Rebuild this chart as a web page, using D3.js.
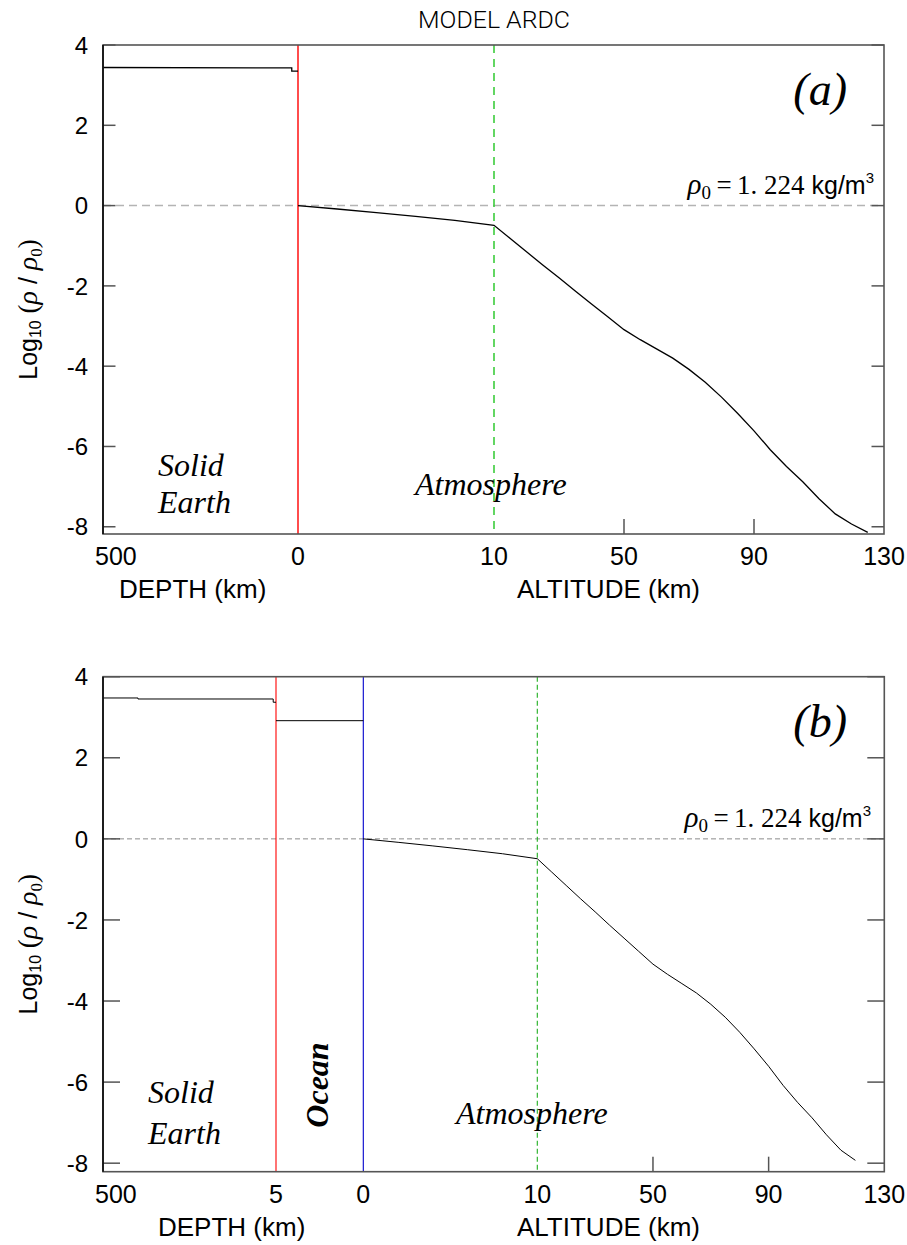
<!DOCTYPE html>
<html>
<head>
<meta charset="utf-8">
<script src="https://cdn.jsdelivr.net/npm/d3@7"></script>
<style>
  body { margin: 0; background: #fff; }
  svg { display: block; }
</style>
</head>
<body>
<div id="chart"></div>
<script>
// density profile of model ARDC, log10(rho/rho0)
var atmAlt    = [0, 2, 4, 6, 8, 10, 15, 20, 25, 30, 35, 40, 45, 50, 55, 60, 65, 70, 75, 80, 85, 90, 95, 100, 105, 110, 115, 120, 125];
var atmLogRho = [0, -0.085, -0.174, -0.268, -0.367, -0.49, -0.82, -1.15, -1.48, -1.80, -2.13, -2.45, -2.77, -3.09, -3.34, -3.57, -3.80, -4.08, -4.40, -4.77, -5.18, -5.61, -6.08, -6.50, -6.88, -7.30, -7.68, -7.93, -8.14];
var atmTopA = 125, atmTopB = 120;

var solidDepthA  = [500, 16, 16, 0];
var solidLogRhoA = [3.44, 3.43, 3.35, 3.35];
var solidDepthB  = [500, 400, 400, 13, 13, 5];
var solidLogRhoB = [3.475, 3.475, 3.45, 3.45, 3.37, 3.37];
var oceanDepthB  = [5, 0];
var oceanLogRhoB = [2.915, 2.915];

var yTicks = [4, 2, 0, -2, -4, -6, -8];
var xTicksA = [-500, 0, 10, 50, 90, 130];
var xTickLabelsA = ["500", "0", "10", "50", "90", "130"];
var xTicksB = [-500, -5, 0, 10, 50, 90, 130];
var xTickLabelsB = ["500", "5", "0", "10", "50", "90", "130"];
var rho0Label = "1. 224";

var w = 907, h = 1245;
var SANS = "'Liberation Sans', Arial, sans-serif",
    SERIF = "'Liberation Serif', 'Times New Roman', serif",
    frameCOLOR = "#555";

var mysvg = d3.select("#chart").append("svg").attr("width", w).attr("height", h);

mysvg.append("text").attr("x", 494).attr("y", 28).attr("text-anchor", "middle")
  .attr("font-family", "Roboto, " + SANS).attr("font-weight", 300).attr("font-size", 23)
  .attr("textLength", 152).attr("lengthAdjust", "spacingAndGlyphs").text("MODEL ARDC");

function drawPanel(p) {
  var g = mysvg.append("g");
  var x = d3.scaleLinear().domain(p.xDomain).range(p.xRange);
  var y = d3.scaleLinear().domain([p.yMin, 4]).range([p.bottom, p.top]);
  var left = p.xRange[0], right = p.xRange[p.xRange.length - 1];

  // zero line (rho = rho0)
  g.append("line").attr("x1", left).attr("x2", right).attr("y1", y(0)).attr("y2", y(0))
    .attr("stroke", p.zeroCOLOR).attr("stroke-width", p.thin ? 1 : 1.5).attr("stroke-dasharray", p.thin ? "5,3" : "8,5");

  // y ticks, both sides
  yTicks.forEach(function (t) {
    g.append("line").attr("x1", left).attr("x2", left + p.yTickLen).attr("y1", y(t)).attr("y2", y(t))
      .attr("stroke", frameCOLOR).attr("stroke-width", 1.5);
    g.append("line").attr("x1", right - p.yTickLen).attr("x2", right).attr("y1", y(t)).attr("y2", y(t))
      .attr("stroke", frameCOLOR).attr("stroke-width", 1.5);
    g.append("text").attr("x", 88).attr("y", y(t)).attr("dy", "0.36em").attr("text-anchor", "end")
      .attr("font-family", SANS).attr("font-size", 24).text(t < 0 ? "-" + Math.abs(t) : t);
  });

  // x ticks + labels
  p.xTicks.forEach(function (t, i) {
    if (t === 50 || t === 90) {
      g.append("line").attr("x1", x(t)).attr("x2", x(t)).attr("y1", p.bottom).attr("y2", p.bottom - 15)
        .attr("stroke", frameCOLOR).attr("stroke-width", 1.5);
    }
    g.append("text").attr("x", i === 0 ? x(t) - 8 : x(t)).attr("y", p.bottom + 31)
      .attr("text-anchor", i === 0 ? "start" : "middle")
      .attr("font-family", SANS).attr("font-size", 25).text(p.xTickLabels[i]);
  });
  g.append("text").attr("x", p.depthLabelX).attr("y", p.bottom + 64).attr("font-family", SANS).attr("font-size", 26).text("DEPTH (km)");
  g.append("text").attr("x", 517).attr("y", p.bottom + 64).attr("font-family", SANS).attr("font-size", 26).text("ALTITUDE (km)");

  // boundary lines
  p.vlines.forEach(function (v) {
    g.append("line").attr("x1", x(v.at)).attr("x2", x(v.at)).attr("y1", p.top).attr("y2", p.bottom)
      .attr("stroke", v.color).attr("stroke-width", v.width).attr("stroke-dasharray", v.dash || null);
  });

  var line = d3.line().x(function (d) { return x(d[0]); }).y(function (d) { return y(d[1]); });
  p.series.forEach(function (s) {
    var pts = s.xs.map(function (v, i) { return [v, s.ys[i]]; });
    g.append("path").attr("d", line(pts)).attr("fill", "none").attr("stroke", "#000").attr("stroke-width", p.thin ? 1 : 1.3);
  });

  // frame
  g.append("rect").attr("x", left).attr("y", p.top).attr("width", right - left).attr("height", p.bottom - p.top)
    .attr("fill", "none").attr("stroke", frameCOLOR).attr("stroke-width", 1.6);
  g.append("line").attr("x1", left).attr("x2", left).attr("y1", p.top).attr("y2", p.bottom).attr("stroke", "#000").attr("stroke-width", 1.5);

  // y label
  var yl = g.append("text").attr("transform", "translate(37," + ((p.top + p.bottom) / 2 + 20) + ") rotate(-90)")
    .attr("text-anchor", "middle").attr("font-family", SANS).attr("font-size", 25);
  yl.append("tspan").text("Log");
  yl.append("tspan").attr("font-size", 16).attr("dy", 4).text("10");
  yl.append("tspan").attr("dy", -4).attr("font-family", SERIF).attr("font-size", 27).text(" (");
  yl.append("tspan").attr("font-family", SERIF).attr("font-style", "italic").attr("font-size", 28).text("\u03C1");
  yl.append("tspan").text(" / ");
  yl.append("tspan").attr("font-family", SERIF).attr("font-style", "italic").attr("font-size", 28).text("\u03C1");
  yl.append("tspan").attr("font-family", SERIF).attr("font-size", 17).attr("dy", 5).text("0");
  yl.append("tspan").attr("font-family", SERIF).attr("font-size", 27).attr("dy", -5).text(")");

  // rho0 note
  var rn = g.append("text").attr("x", p.rhoX).attr("y", y(0) - 12).attr("text-anchor", "end").attr("font-family", SERIF).attr("font-size", 27);
  rn.append("tspan").attr("font-style", "italic").attr("font-size", 29).text("\u03C1");
  rn.append("tspan").attr("font-size", 19).attr("dy", 5).text("0");
  rn.append("tspan").attr("dy", -5).text("\u2009=\u2009" + rho0Label);
  rn.append("tspan").attr("font-family", SANS).attr("font-size", 25).text(" kg/m");
  rn.append("tspan").attr("font-family", SANS).attr("font-size", 15).attr("dy", -11).text("3");

  // panel letter
  g.append("text").attr("x", 847).attr("y", p.top + 60).attr("text-anchor", "end")
    .attr("font-family", SERIF).attr("font-style", "italic").attr("font-size", 46).text(p.letter);

  // region names
  p.notes.forEach(function (n) {
    var t = g.append("text").attr("font-family", SERIF).attr("font-style", "italic").attr("font-size", 32)
      .attr("font-weight", n.bold ? "bold" : null);
    if (n.rotate) t.attr("transform", "translate(" + n.x + "," + n.y + ") rotate(-90)").attr("text-anchor", "middle");
    else t.attr("x", n.x).attr("y", n.y);
    t.text(n.text);
  });
}

function depthSeries(depth, vals) {
  return { xs: depth.map(function (d) { return -d; }), ys: vals };
}
function atmSeries(top) {
  var xs = [], ys = [];
  atmAlt.forEach(function (a, i) { if (a <= top) { xs.push(a); ys.push(atmLogRho[i]); } });
  return { xs: xs, ys: ys };
}

drawPanel({
  letter: "(a)", top: 45, bottom: 534, yMin: -8.18, yTickLen: 12.5, thin: false,
  xDomain: [-500, 0, 10, 130], xRange: [103, 298, 494, 884],
  xTicks: xTicksA, xTickLabels: xTickLabelsA, depthLabelX: 119, rhoX: 874,
  zeroCOLOR: "#b4b4b4",
  vlines: [{ at: 0, color: "#ff0000", width: 1.4 }, { at: 10, color: "#3ccc3c", width: 1.6, dash: "8,6" }],
  series: [depthSeries(solidDepthA, solidLogRhoA), atmSeries(atmTopA)],
  notes: [{ text: "Solid", x: 158, y: 476 }, { text: "Earth", x: 158, y: 513 }, { text: "Atmosphere", x: 415, y: 495 }]
});

drawPanel({
  letter: "(b)", top: 676.7, bottom: 1171.7, yMin: -8.21, yTickLen: 17, thin: true,
  xDomain: [-500, -5, 0, 10, 130], xRange: [103, 276, 363.3, 537.3, 884.3],
  xTicks: xTicksB, xTickLabels: xTickLabelsB, depthLabelX: 158, rhoX: 871,
  zeroCOLOR: "#8c8c8c",
  vlines: [{ at: -5, color: "#ff0000", width: 1.1 }, { at: 0, color: "#0000cc", width: 1.1 }, { at: 10, color: "#1fae1f", width: 1.1, dash: "5,3" }],
  series: [depthSeries(solidDepthB, solidLogRhoB), depthSeries(oceanDepthB, oceanLogRhoB), atmSeries(atmTopB)],
  notes: [{ text: "Solid", x: 148, y: 1103 }, { text: "Earth", x: 148, y: 1144 }, { text: "Atmosphere", x: 456, y: 1124 },
          { text: "Ocean", x: 328, y: 1085, rotate: true, bold: true }]
});
</script>
</body>
</html>
